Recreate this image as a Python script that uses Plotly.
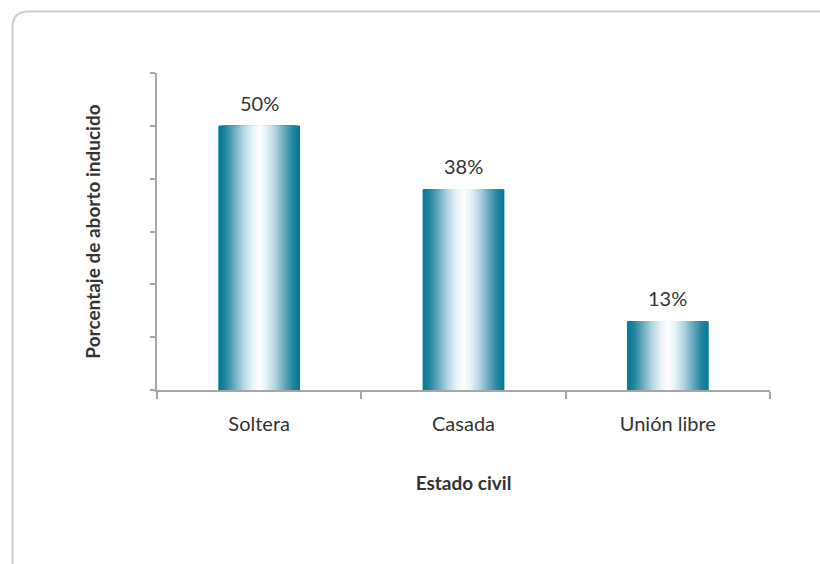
import plotly.graph_objects as go

# Datos
estados = ["Soltera", "Casada", "Unión libre"]
porcentajes = [50, 38, 13]
etiquetas = ["50%", "38%", "13%"]

FONT = "Lato"
TEXT = "#333333"
AXIS = "#a6a6a6"

# Degradado horizontal de las barras: borde azul petróleo -> centro blanco
stops = [
    (0.00, (255, 255, 255)),
    (0.18, (232, 243, 247)),
    (0.40, (178, 214, 225)),
    (0.65, (96, 165, 186)),
    (0.85, (34, 132, 158)),
    (1.00, (0, 124, 150)),
]


def color_at(t):
    for (t0, c0), (t1, c1) in zip(stops[:-1], stops[1:]):
        if t <= t1:
            f = (t - t0) / (t1 - t0) if t1 > t0 else 0
            r, g, b = (round(a + (b_ - a) * f) for a, b_ in zip(c0, c1))
            return f"rgb({r},{g},{b})"
    r, g, b = stops[-1][1]
    return f"rgb({r},{g},{b})"


BAR_W = 0.4
N = 40
fig = go.Figure()
for k in range(N):
    t = 1 - k / N
    fig.add_trace(go.Bar(
        x=estados,
        y=porcentajes,
        width=BAR_W * t,
        marker=dict(color=color_at(t), line=dict(width=0)),
        hoverinfo="skip",
        showlegend=False,
    ))

# Etiquetas de valor sobre cada barra
for est, val, lab in zip(estados, porcentajes, etiquetas):
    fig.add_annotation(
        x=est, y=val, text=lab, showarrow=False,
        yanchor="bottom", yshift=9,
        font=dict(family=FONT, size=20, color=TEXT),
    )

# Marco exterior (borde superior e izquierdo redondeado)
L, R, T, B = 157, 770, 73, 390
W, H = R - L, B - T


def px(x):
    return (x - L) / W


def py(y):
    return (B - y) / H


rad = 16
frame_path = (
    f"M {px(12.5)} {py(600)} L {px(12.5)} {py(11.5 + rad)} "
    f"Q {px(12.5)} {py(11.5)} {px(12.5 + rad)} {py(11.5)} "
    f"L {px(830)} {py(11.5)}"
)

fig.update_layout(
    width=820,
    height=564,
    margin=dict(l=L, r=820 - R, t=T, b=564 - B),
    paper_bgcolor="white",
    plot_bgcolor="white",
    barmode="overlay",
    bargap=0.6,
    font=dict(family=FONT, size=20, color=TEXT),
    shapes=[dict(
        type="path", xref="paper", yref="paper", path=frame_path,
        line=dict(color="#cccccc", width=2), layer="below",
    )],
    xaxis=dict(
        showline=True, linecolor=AXIS, linewidth=1.5,
        ticks="outside", tickcolor=AXIS, ticklen=7, tickwidth=1.5,
        tickson="boundaries", showgrid=False, zeroline=False,
        tickfont=dict(family=FONT, size=20, color=TEXT),
        ticklabelstandoff=15,
        title=dict(text="<b>Estado civil</b>", standoff=43,
                   font=dict(family=FONT, size=19, color=TEXT)),
    ),
    yaxis=dict(
        range=[0, 60], dtick=10,
        showline=True, linecolor=AXIS, linewidth=1.5,
        ticks="outside", tickcolor=AXIS, ticklen=5, tickwidth=1.5,
        showticklabels=False, showgrid=False, zeroline=False,
        title=dict(text="<b>Porcentaje de aborto inducido</b>", standoff=45,
                   font=dict(family=FONT, size=19, color=TEXT)),
    ),
)

fig.write_html("out.html")
